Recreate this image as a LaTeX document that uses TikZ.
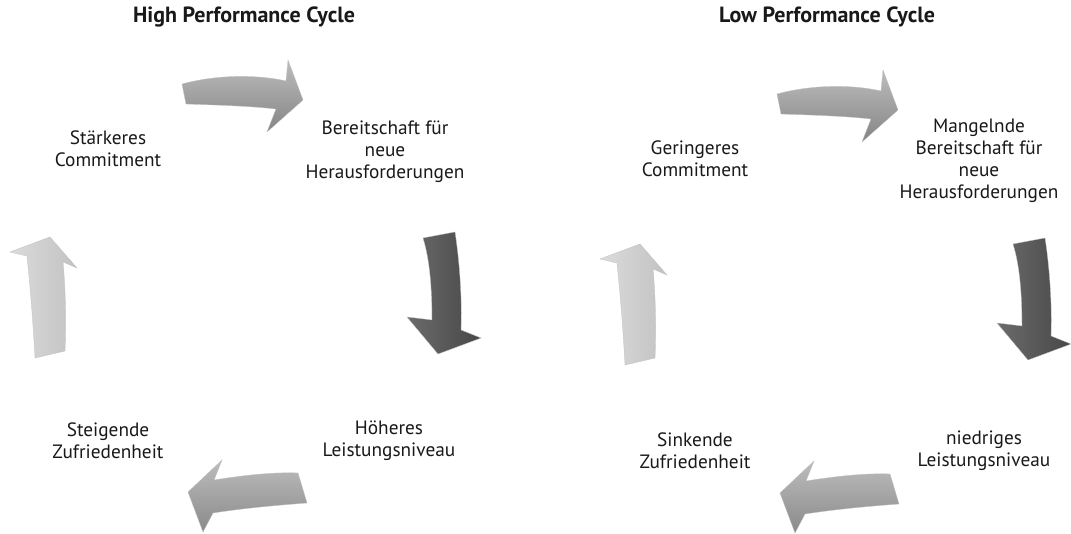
\documentclass[tikz,border=0pt]{standalone}
\usepackage{fontspec}
\setmainfont{PT Sans}
\begin{document}
\begin{tikzpicture}[x=1pt,y=-1pt]
\tikzset{
  lbl/.style={font=\fontsize{19.3}{22}\selectfont, align=center, text=black!90, inner sep=0pt},
  ttl/.style={font=\bfseries\fontsize{22}{25}\selectfont, text=black!90, inner sep=0pt},
  rim/.style={draw=black!25, line width=0.3pt},
  arrowtop/.pic={
    \shade[rim, top color=black!26, bottom color=black!48]
      (182,84) .. controls (215,75) and (255,74) .. (286,81) -- (288,60) -- (303,100)
      -- (267,132) -- (276,109) .. controls (250,106) and (215,105) .. (186,104) -- cycle;
  },
  arrowright/.pic={
    \shade[rim, left color=black!58, right color=black!72]
      (423,238) -- (455,232) .. controls (460,265) and (462,300) .. (461,330)
      -- (481,338) -- (438,354) -- (407,317) -- (432,320)
      .. controls (432,290) and (430,260) .. (423,238) -- cycle;
  },
  arrowbottom/.pic={
    \shade[rim, top color=black!26, bottom color=black!46]
      (188,492) -- (222,460) -- (214,480) .. controls (245,475) and (275,472) .. (298,473)
      -- (307,503) .. controls (280,505) and (245,508) .. (213,513) -- (203,532) -- cycle;
  },
  arrowleft/.pic={
    \shade[rim, left color=black!14, right color=black!24]
      (50,237) -- (77,268) -- (63,262) .. controls (66,295) and (66,325) .. (65,351)
      -- (35,358) .. controls (33,320) and (30,285) .. (27,256) -- (10,252) -- cycle;
  }
}
\useasboundingbox (0,0) rectangle (1071,534);
\fill[white] (0,0) rectangle (1071,534);

% High performance cycle
\node[ttl] (titleH) at (244,17) {High Performance Cycle};
\pic at (0,0) {arrowtop};
\pic at (0,0) {arrowright};
\pic at (0,0) {arrowbottom};
\pic at (0,0) {arrowleft};
\node[lbl] (h1) at (108,149) {Stärkeres\\Commitment};
\node[lbl] (h2) at (385,152) {Bereitschaft für\\neue\\Herausforderungen};
\node[lbl] (h3) at (389,441) {Höheres\\Leistungsniveau};
\node[lbl] (h4) at (108,441) {Steigende\\Zufriedenheit};

% Low performance cycle
\node[ttl] (titleL) at (827,17) {Low Performance Cycle};
\pic at (595,10) {arrowtop};
\pic at (590,6) {arrowright};
\pic at (592,1) {arrowbottom};
\pic at (590,7) {arrowleft};
\node[lbl] (l1) at (695,159) {Geringeres\\Commitment};
\node[lbl] (l2) at (979,161) {Mangelnde\\Bereitschaft für\\neue\\Herausforderungen};
\node[lbl] (l3) at (984,451) {niedriges\\Leistungsniveau};
\node[lbl] (l4) at (695,451) {Sinkende\\Zufriedenheit};
\end{tikzpicture}
\end{document}
